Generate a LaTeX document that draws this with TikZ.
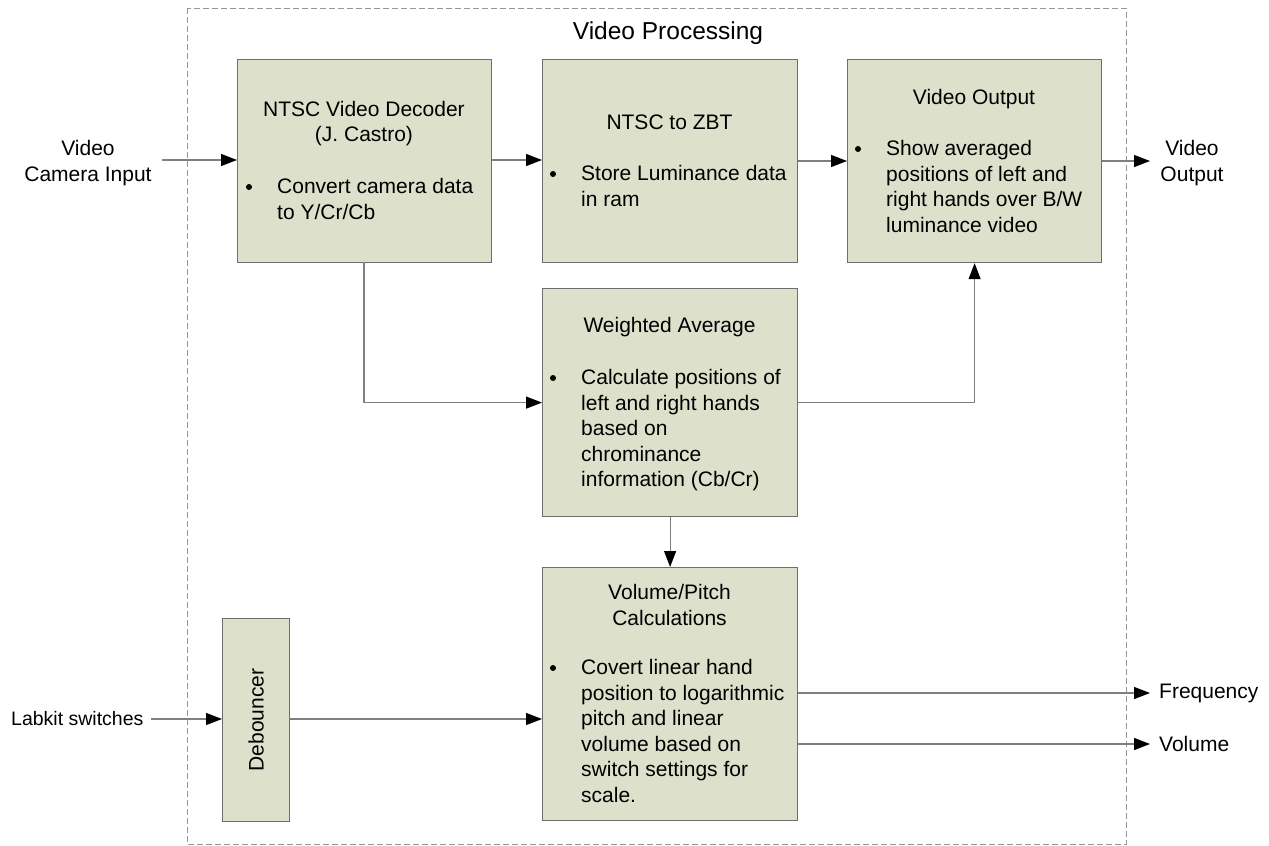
\documentclass[tikz,border=0pt]{standalone}
\usepackage{fontspec}
\setmainfont{Liberation Sans}
\usetikzlibrary{arrows.meta}
\definecolor{boxfill}{RGB}{221,225,203}
\definecolor{boxline}{RGB}{110,110,110}
\definecolor{conn}{RGB}{128,128,128}
\definecolor{frame}{RGB}{150,150,150}
\tikzset{
  blk/.style={draw=boxline, fill=boxfill, line width=1.2pt, inner sep=0pt, anchor=north west},
  txt/.style={inner sep=0pt, font=\fontsize{21}{25.5}\selectfont, align=left},
  ctxt/.style={inner sep=0pt, font=\fontsize{21}{25.5}\selectfont, align=center},
  bul/.style={circle, fill=black, inner sep=0pt, minimum size=6pt},
  arr/.style={draw=conn, line width=1.2pt, -{Triangle[length=16pt,width=12pt,color=black]}},
}
\begin{document}
\begin{tikzpicture}[x=1pt,y=-1pt]
\useasboundingbox (0,0) rectangle (1269,846);
% frame
\draw[frame, line width=1pt, dash pattern=on 6pt off 3pt] (187,8) rectangle (1126,844);
\node[inner sep=0pt, font=\fontsize{24.5}{28}\selectfont] (title) at (668,33) {Video Processing};

% boxes
\node[blk, minimum width=254pt, minimum height=203pt] (dec) at (237,59) {};
\node[blk, minimum width=255pt, minimum height=203pt] (zbt) at (542,59) {};
\node[blk, minimum width=254pt, minimum height=203pt] (vo) at (847,59) {};
\node[blk, minimum width=255pt, minimum height=228pt] (wa) at (542,288) {};
\node[blk, minimum width=255pt, minimum height=253pt] (vp) at (542,567) {};
\node[blk, minimum width=67pt, minimum height=203pt] (deb) at (222,618) {};

% texts
\node[ctxt, anchor=north] (decT) at (364,101) {NTSC Video Decoder\\(J. Castro)};
\node[bul] (decB) at (249,187) {};
\node[txt, anchor=north west] (decX) at (277,178.5) {Convert camera data\\to Y/Cr/Cb};

\node[ctxt, anchor=north] (zbtT) at (669.5,114.5) {NTSC to ZBT};
\node[bul] (zbtB) at (553,174) {};
\node[txt, anchor=north west] (zbtX) at (581,165.5) {Store Luminance data\\in ram};

\node[ctxt, anchor=north] (voT) at (974,89.5) {Video Output};
\node[bul] (voB) at (858,149) {};
\node[txt, anchor=north west] (voX) at (886,140.5) {Show averaged\\positions of left and\\right hands over B/W\\luminance video};

\node[ctxt, anchor=north] (waT) at (669.5,317.5) {Weighted Average};
\node[bul] (waB) at (553,378) {};
\node[txt, anchor=north west] (waX) at (581,369.5) {Calculate positions of\\left and right hands\\based on\\chrominance\\information (Cb/Cr)};

\node[ctxt, anchor=north] (vpT) at (669.5,584.5) {Volume/Pitch\\Calculations};
\node[bul] (vpB) at (553,668) {};
\node[txt, anchor=north west] (vpX) at (581,659.5) {Covert linear hand\\position to logarithmic\\pitch and linear\\volume based on\\switch settings for\\scale.};

\node[ctxt, rotate=90] (debT) at (deb.center) {Debouncer};

% outside labels
\node[ctxt, anchor=north] (camL) at (88,140.5) {Video\\Camera Input};
\node[inner sep=0pt, font=\fontsize{19.5}{24}\selectfont, anchor=west] (labL) at (11,719) {Labkit switches};
\node[ctxt, anchor=north] (outL) at (1192,140.5) {Video\\Output};
\node[txt, anchor=west] (freqL) at (1159,693) {Frequency};
\node[txt, anchor=west] (volL) at (1159,744) {Volume};

% coordinates
\coordinate (camS) at (162,160);
\coordinate (labS) at (151,719);
\coordinate (outE) at (1150,161);
\coordinate (freqE) at (1150,693);
\coordinate (volE) at (1150,744);
\coordinate (decDown) at (364,262);

% connectors
\draw[arr] (camS) -- (camS -| dec.west);
\draw[arr] (dec.east |- camS) -- (zbt.west |- camS);
\draw[arr] (zbt.east |- outE) -- (vo.west |- outE);
\draw[arr] (vo.east |- outE) -- (outE);
\draw[arr] (decDown) |- (wa.west);
\draw[arr] (wa.east) -| (vo.south);
\draw[arr] (wa.south) -- (vp.north);
\draw[arr] (labS) -- (labS -| deb.west);
\draw[arr] (deb.east |- labS) -- (vp.west |- labS);
\draw[arr] (vp.east |- freqE) -- (freqE);
\draw[arr] (vp.east |- volE) -- (volE);
\end{tikzpicture}
\end{document}
